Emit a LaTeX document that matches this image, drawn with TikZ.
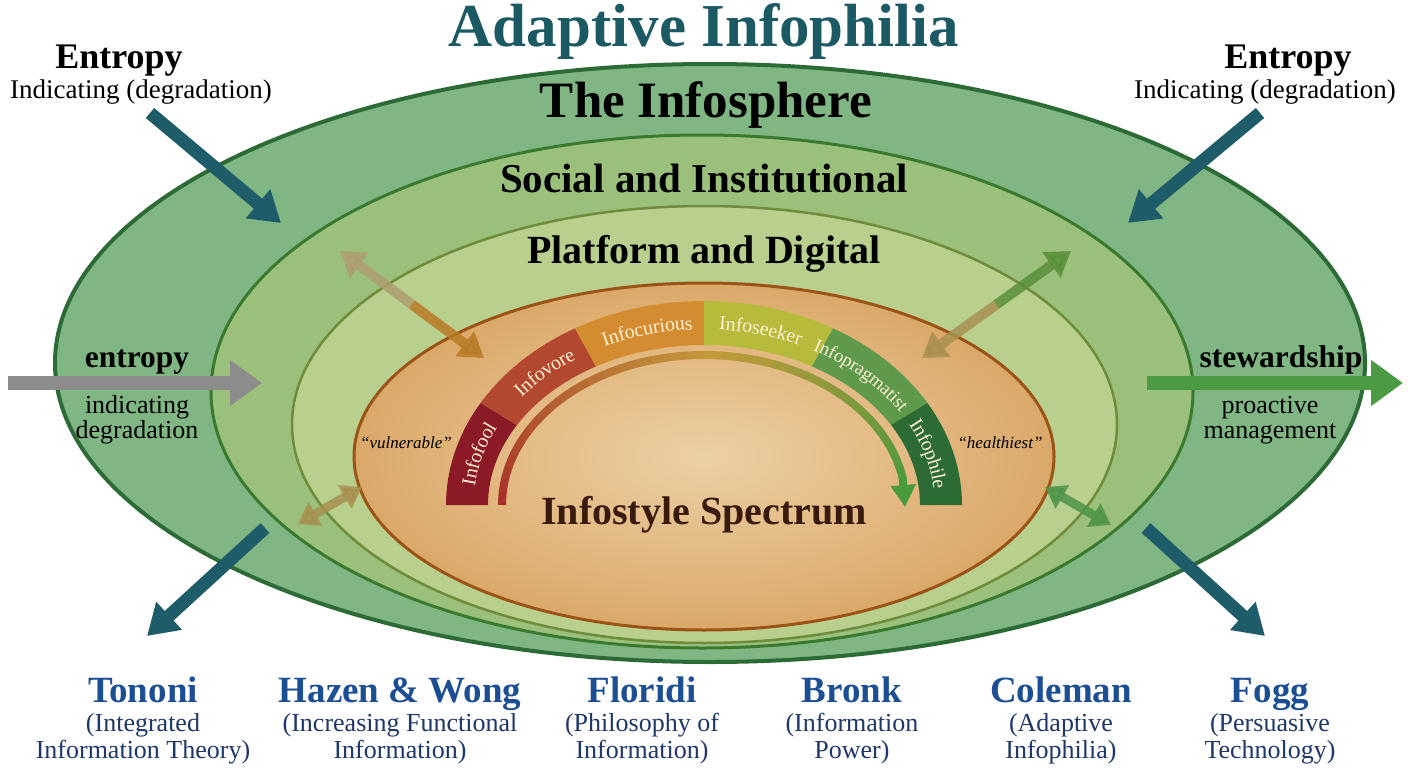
\documentclass[tikz,border=0pt]{standalone}
\usepackage{fontspec}
\setmainfont{Liberation Serif}
\usetikzlibrary{arrows.meta,decorations.text}

\definecolor{titleTeal}{HTML}{1C5A63}
\definecolor{ringA}{HTML}{80B683}
\definecolor{ringAline}{HTML}{2C6A36}
\definecolor{ringB}{HTML}{9AC07C}
\definecolor{ringBline}{HTML}{3A7A2E}
\definecolor{ringC}{HTML}{B8CF8E}
\definecolor{ringCline}{HTML}{6E8C3A}
\definecolor{oIn}{HTML}{ECCFA4}
\definecolor{oMid}{HTML}{E0B47A}
\definecolor{oOut}{HTML}{C5812E}
\definecolor{oLine}{HTML}{9C5416}
\definecolor{segA}{HTML}{8B1A26}
\definecolor{segB}{HTML}{B4472F}
\definecolor{segC}{HTML}{D38C30}
\definecolor{segD}{HTML}{B6BB3C}
\definecolor{segE}{HTML}{5F9A4C}
\definecolor{segF}{HTML}{2D6B35}
\definecolor{cream}{HTML}{FBF1D2}
\definecolor{arcRed}{HTML}{A8302A}
\definecolor{arcMid}{HTML}{C39A3A}
\definecolor{arcGreen}{HTML}{4A9A3E}
\definecolor{tealArrow}{HTML}{1D5C68}
\definecolor{grayArrow}{HTML}{8C8C8C}
\definecolor{greenArrow}{HTML}{4C9A44}
\definecolor{tanA}{HTML}{AE9E70}
\definecolor{tanB}{HTML}{B97A26}
\definecolor{tanC}{HTML}{A8904F}
\definecolor{greenC}{HTML}{5A8F3A}
\definecolor{greenD}{HTML}{4E9448}
\definecolor{spectrumBrown}{HTML}{3A1A0C}
\definecolor{nameBlue}{HTML}{1C4E94}
\definecolor{subBlue}{HTML}{1E3769}

\pgfdeclareradialshading{orangeglow}{\pgfpoint{0bp}{0bp}}{color(0bp)=(oIn); color(18bp)=(oMid); color(50bp)=(oOut)}

\begin{document}
\begin{tikzpicture}[x=1pt,y=-1pt,
  lbl/.style={anchor=base, inner sep=0pt},
  bigarrow/.style={line width=13pt, -{Triangle[width=36pt,length=30pt]}},
  sidearrow/.style={line width=14pt, -{Triangle[width=44pt,length=32pt]}},
  halfarrow/.style={line width=10pt, opacity=0.85, -{Triangle[width=30pt,length=24pt]}},
  smallhalf/.style={line width=9pt, opacity=0.85, -{Triangle[width=26pt,length=20pt]}},
  seglabel/.style={decorate, decoration={text along path, text align=center, raise=-6.5pt, text color=cream}}
]
\fill[white] (0,0) rectangle (1408,768);
\useasboundingbox (0,0) rectangle (1408,768);

% nested ellipses
\filldraw[fill=ringA, draw=ringAline, line width=4pt] (710,363) ellipse [x radius=655pt, y radius=299pt];
\filldraw[fill=ringB, draw=ringBline, line width=3pt] (702,391.5) ellipse [x radius=491pt, y radius=256.5pt];
\filldraw[fill=ringC, draw=ringCline, line width=2.5pt] (704.5,424.5) ellipse [x radius=412.5pt, y radius=218.5pt];
\shade[shading=orangeglow] (704,456.5) ellipse [x radius=350pt, y radius=173.5pt];
\draw[oLine, line width=3pt] (704,456.5) ellipse [x radius=350pt, y radius=173.5pt];

% spectrum band
\foreach \ta/\tb/\col in {180/150/segA,150/120/segB,120/90/segC,90/60/segD,60/30/segE,30/0/segF}{
  \fill[\col] plot[variable=\t, domain=\ta:\tb, samples=25] ({704+258*cos(\t)},{505-204*sin(\t)})
     -- plot[variable=\t, domain=\tb:\ta, samples=25] ({704+216*cos(\t)},{505-160*sin(\t)}) -- cycle;
}
\path[seglabel, decoration={text={|\fontsize{20}{20}\selectfont|Infofool}}]
  plot[variable=\t, domain=200:130, samples=50] ({704+237*cos(\t)},{505-182*sin(\t)});
\path[seglabel, decoration={text={|\fontsize{20}{20}\selectfont|Infovore}}]
  plot[variable=\t, domain=170:100, samples=50] ({704+237*cos(\t)},{505-182*sin(\t)});
\path[seglabel, decoration={text={|\fontsize{20}{20}\selectfont|Infocurious}}]
  plot[variable=\t, domain=140:70, samples=50] ({704+237*cos(\t)},{505-182*sin(\t)});
\path[seglabel, decoration={text={|\fontsize{20}{20}\selectfont|Infoseeker}}]
  plot[variable=\t, domain=110:40, samples=50] ({704+237*cos(\t)},{505-182*sin(\t)});
\path[seglabel, decoration={text={|\fontsize{19}{19}\selectfont|Infopragmatist}}]
  plot[variable=\t, domain=80:10, samples=50] ({704+237*cos(\t)},{505-182*sin(\t)});
\path[seglabel, decoration={text={|\fontsize{20}{20}\selectfont|Infophile}}]
  plot[variable=\t, domain=50:-20, samples=50] ({704+237*cos(\t)},{505-182*sin(\t)});

% inner gradient arrow
\foreach \i in {0,...,17}{
  \pgfmathsetmacro\pa{180-5*\i}
  \pgfmathsetmacro\pb{174.5-5*\i}
  \pgfmathtruncatemacro\pp{100-\i*100/18}
  \draw[line width=8pt, color=arcRed!\pp!arcMid, line cap=butt]
    plot[variable=\t, domain=\pa:\pb, samples=4] ({704+202*cos(\t)},{505-150*sin(\t)});
}
\foreach \i in {0,...,15}{
  \pgfmathsetmacro\pa{90-5*\i}
  \pgfmathsetmacro\pb{84.5-5*\i}
  \pgfmathtruncatemacro\pp{100-\i*100/16}
  \draw[line width=8pt, color=arcMid!\pp!arcGreen, line cap=butt]
    plot[variable=\t, domain=\pa:\pb, samples=4] ({704+202*cos(\t)},{505-150*sin(\t)});
}
\coordinate (arcEnd) at ({704+202*cos(10.5)},{505-150*sin(10.5)});
\coordinate (arcTip) at (905,507);
\draw[line width=8pt, arcGreen, -{Triangle[width=24pt,length=22pt]}] (arcEnd) -- (arcTip);

% titles
\node[lbl, font=\fontsize{61}{61}\selectfont\bfseries, text=titleTeal] (title) at (704,47) {Adaptive Infophilia};
\node[lbl, font=\fontsize{51}{51}\selectfont\bfseries] (sphere) at (706,117) {The Infosphere};
\node[lbl, font=\fontsize{41}{41}\selectfont\bfseries] (social) at (704,192) {Social and Institutional};
\node[lbl, font=\fontsize{40}{40}\selectfont\bfseries] (platform) at (704,263) {Platform and Digital};
\node[lbl, font=\fontsize{40}{40}\selectfont\bfseries, text=spectrumBrown] (spectrum) at (704,524) {Infostyle Spectrum};
\node[lbl, font=\fontsize{17}{17}\selectfont\itshape] (vuln) at (406,448) {“vulnerable”};
\node[lbl, font=\fontsize{17}{17}\selectfont\itshape] (healthy) at (1000,448) {“healthiest”};

% corner labels
\node[lbl, font=\fontsize{36}{36}\selectfont\bfseries] (entL) at (119,69) {Entropy};
\node[lbl, font=\fontsize{27}{27}\selectfont] (indL) at (141,99) {Indicating (degradation)};
\node[lbl, font=\fontsize{36}{36}\selectfont\bfseries] (entR) at (1288,69) {Entropy};
\node[lbl, font=\fontsize{27}{27}\selectfont] (indR) at (1265,99) {Indicating (degradation)};

\node[lbl, font=\fontsize{31.5}{31.5}\selectfont\bfseries] (entM) at (137,367) {entropy};
\node[lbl, font=\fontsize{26}{26}\selectfont] (entM1) at (137,413) {indicating};
\node[lbl, font=\fontsize{26}{26}\selectfont] (entM2) at (137,438) {degradation};
\node[lbl, font=\fontsize{31.5}{31.5}\selectfont\bfseries] (stew) at (1281,367) {stewardship};
\node[lbl, font=\fontsize{26}{26}\selectfont] (stew1) at (1270,413) {proactive};
\node[lbl, font=\fontsize{26}{26}\selectfont] (stew2) at (1270,438) {management};

% big teal arrows
\coordinate (tulA) at (150,113); \coordinate (tulB) at (281,223);
\coordinate (turA) at (1260,113); \coordinate (turB) at (1128,223);
\coordinate (tllA) at (265,528); \coordinate (tllB) at (147,636);
\coordinate (tlrA) at (1146,528); \coordinate (tlrB) at (1265,636);
\draw[bigarrow, tealArrow] (tulA) -- (tulB);
\draw[bigarrow, tealArrow] (turA) -- (turB);
\draw[bigarrow, tealArrow] (tllA) -- (tllB);
\draw[bigarrow, tealArrow] (tlrA) -- (tlrB);

% side arrows
\coordinate (gA) at (8,383); \coordinate (gB) at (262,383);
\coordinate (sA) at (1147,383); \coordinate (sB) at (1403,383);
\draw[sidearrow, grayArrow] (gA) -- (gB);
\draw[sidearrow, greenArrow] (sA) -- (sB);

% double arrows between layers
\coordinate (ulA) at (340,251); \coordinate (ulB) at (484,358); \coordinate (ulM) at (412,304.5);
\draw[halfarrow, tanA] (ulM) -- (ulA);
\draw[halfarrow, tanB] (ulM) -- (ulB);
\coordinate (urA) at (922,358); \coordinate (urB) at (1071,251); \coordinate (urM) at (996.5,304.5);
\draw[halfarrow, tanC] (urM) -- (urA);
\draw[halfarrow, greenC] (urM) -- (urB);
\coordinate (llA) at (298,524); \coordinate (llB) at (362,487); \coordinate (llM) at (330,505.5);
\draw[smallhalf, tanC] (llM) -- (llA);
\draw[smallhalf, tanC] (llM) -- (llB);
\coordinate (lrA) at (1045,487); \coordinate (lrB) at (1111,525); \coordinate (lrM) at (1078,506);
\draw[smallhalf, greenD] (lrM) -- (lrA);
\draw[smallhalf, greenD] (lrM) -- (lrB);

% bottom theorists
\foreach \nm/\xx/\na/\la/\lb in {ton/143/Tononi/(Integrated/Information Theory),
   haz/400/Hazen \& Wong/(Increasing Functional/Information),
   flo/642/Floridi/(Philosophy of/Information),
   bro/852/Bronk/(Information/Power),
   col/1061/Coleman/(Adaptive/Infophilia),
   fog/1270/Fogg/(Persuasive/Technology)}{
  \node[lbl, font=\fontsize{37}{37}\selectfont\bfseries, text=nameBlue] (\nm) at (\xx,702) {\na};
  \node[lbl, font=\fontsize{26}{26}\selectfont, text=subBlue] (\nm1) at (\xx,731) {\la};
  \node[lbl, font=\fontsize{26}{26}\selectfont, text=subBlue] (\nm2) at (\xx,758) {\lb};
}
\end{tikzpicture}
\end{document}
